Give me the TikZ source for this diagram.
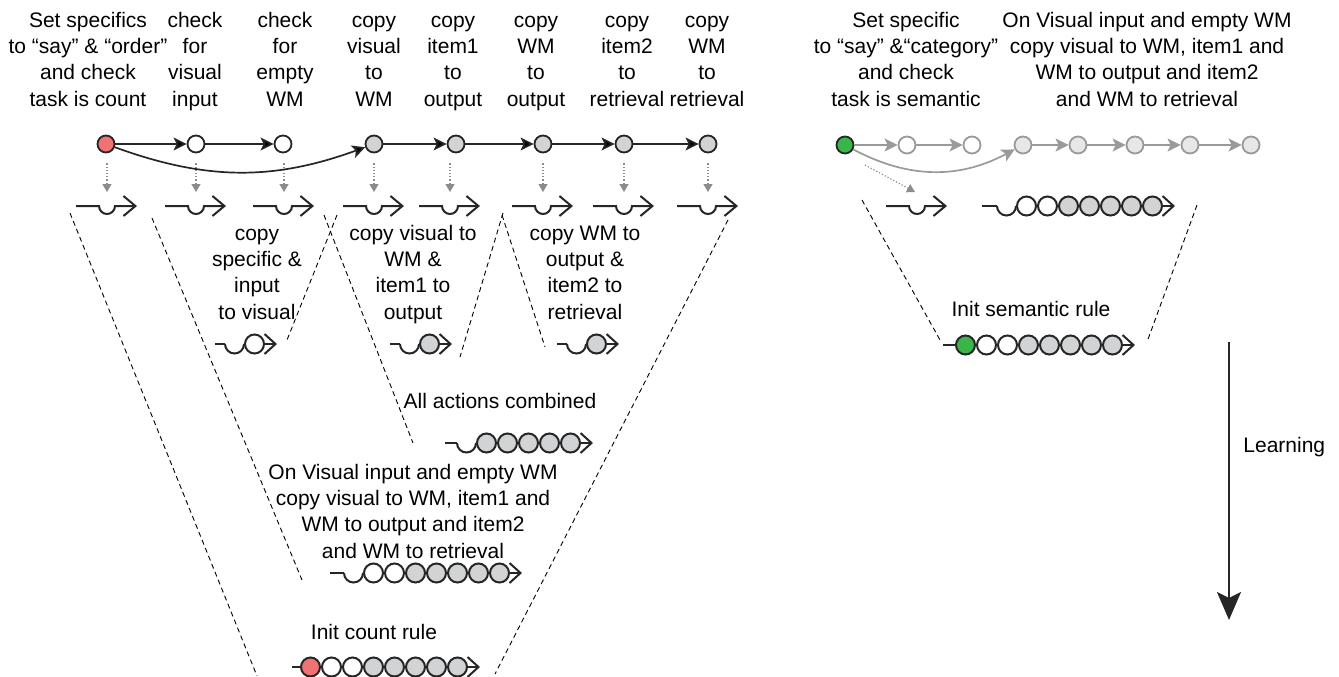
\documentclass[tikz,border=0pt]{standalone}
\usepackage{fontspec}
\setmainfont{Liberation Sans}
\usetikzlibrary{arrows.meta}

\definecolor{rood}{HTML}{F07272}
\definecolor{groen}{HTML}{3AB54A}
\definecolor{grijs}{HTML}{D1D3D4}
\definecolor{lichtgrijs}{HTML}{E6E7E8}
\definecolor{stipgrijs}{HTML}{8C8C8C}
\definecolor{randgrijs}{HTML}{9A9A9A}

\begin{document}
\begin{tikzpicture}[
    x=0.5pt, y=0.5pt,
    stap/.style={
      circle,
      draw=black!85,
      line width=0.9pt,
      minimum size=8.5pt,
      inner sep=0pt},
    grijsstap/.style={stap, draw=randgrijs},
    pijl/.style={-{Stealth[length=6.5pt,width=6.5pt,inset=1.5pt]}, line width=0.85pt, draw=black!85},
    grijspijl/.style={pijl, draw=randgrijs, fill=randgrijs},
    stippel/.style={-{Triangle[length=4pt,width=4.5pt]}, densely dotted, stipgrijs, line width=0.6pt},
    rand/.style={dash pattern=on 2.5pt off 1.8pt, line width=0.45pt},
    lijn/.style={line width=1pt, black!85},
    tekst/.style={align=center, inner sep=0pt, font=\fontsize{10.5}{13.15}\selectfont},
    /regel/.code 2 args={
      \coordinate (#1) at #2;
      \draw[lijn, -{Straight Barb[length=6pt,width=10pt]}]
        (#1) ++(-31,0) -- ++(23,0) arc[start angle=180, end angle=360, radius=8] -- ++(22,0);
      },
    /keten/.code n args={5}{
      \coordinate (#1) at #2;
      \draw[lijn] (#1) -- ++(#3,0) coordinate (#1-eind);
      \ifnum#4=1
        \draw[lijn] (#1-eind) arc[start angle=180, end angle=360, radius=9.5] coordinate (#1-eind);
      \fi
      \foreach \kleur in {#5}
        \filldraw[lijn, fill=\kleur] (#1-eind) ++(10.5,0) circle[radius=9.5] ++(10.5,0) coordinate (#1-eind);
      \draw[lijn, -{Straight Barb[length=5.5pt,width=10pt]}] (#1-eind) -- ++(12,0);
      }
    ]
  \useasboundingbox (0,0) rectangle (1339,-676);

  % count task: steps
  \node[stap, fill=rood]  (s1) at (106,-144) {};
  \node[stap, fill=white] (s2) at (196,-144) {};
  \node[stap, fill=white] (s3) at (283,-144) {};
  \node[stap, fill=grijs] (s4) at (374,-144) {};
  \node[stap, fill=grijs] (s5) at (456,-144) {};
  \node[stap, fill=grijs] (s6) at (543,-144) {};
  \node[stap, fill=grijs] (s7) at (624,-144) {};
  \node[stap, fill=grijs] (s8) at (708,-144) {};

  \path[pijl] (s1) edge (s2) (s2) edge (s3);
  \path[pijl] (s4) edge (s5) (s5) edge (s6) (s6) edge (s7) (s7) edge (s8);
  \path[pijl] (s1) edge[bend right=20] (s4);

  % labels, anchored at the baseline of the last line
  \node[tekst, anchor=base] (t1) at (88,-106)  {Set specifics\\to “say” \& “order”\\and check\\task is count};
  \node[tekst, anchor=base] (t2) at (195,-106) {check\\for\\visual\\input};
  \node[tekst, anchor=base] (t3) at (285,-106) {check\\for\\empty\\WM};
  \node[tekst, anchor=base] (t4) at (374,-106) {copy\\visual\\to\\WM};
  \node[tekst, anchor=base] (t5) at (453,-106) {copy\\item1\\to\\output};
  \node[tekst, anchor=base] (t6) at (536,-106) {copy\\WM\\to\\output};
  \node[tekst, anchor=base] (t7) at (627,-106) {copy\\item2\\to\\retrieval};
  \node[tekst, anchor=base] (t8) at (707,-106) {copy\\WM\\to\\retrieval};

  % single productions
  \pgfkeys{/regel={g1}{(107,-206)}}
  \pgfkeys{/regel={g2}{(196,-206)}}
  \pgfkeys{/regel={g3}{(284,-206)}}
  \pgfkeys{/regel={g4}{(374,-206)}}
  \pgfkeys{/regel={g5}{(450,-206)}}
  \pgfkeys{/regel={g6}{(543,-206)}}
  \pgfkeys{/regel={g7}{(624,-206)}}
  \pgfkeys{/regel={g8}{(708,-206)}}

  \foreach \i in {1,...,8}
    \draw[stippel] (g\i |- s\i.south) ++(0,-10) -- ([yshift=7pt]g\i);

  % combined productions
  \pgfkeys{/keten={k1}{(215,-344)}{10}{1}{white}}
  \pgfkeys{/keten={k2}{(390,-344)}{10}{1}{grijs}}
  \pgfkeys{/keten={k3}{(557,-344)}{10}{1}{grijs}}
  \pgfkeys{/keten={k4}{(445,-443)}{12}{1}{grijs,grijs,grijs,grijs,grijs}}
  \pgfkeys{/keten={k5}{(330,-573)}{14}{1}{white,white,grijs,grijs,grijs,grijs,grijs}}
  \pgfkeys{/keten={k6}{(292,-667)}{8}{0}{rood,white,white,grijs,grijs,grijs,grijs,grijs}}

  \node[tekst, anchor=base] (m1) at (257,-319) {copy\\specific \&\\input\\to visual};
  \node[tekst, anchor=base] (m2) at (413,-319) {copy visual to\\WM \&\\item1 to\\output};
  \node[tekst, anchor=base] (m3) at (585,-319) {copy WM to\\output \&\\item2 to\\retrieval};
  \node[tekst, anchor=base] (m4) at (500,-408) {All actions combined};
  \node[tekst, anchor=base] (m5) at (413,-558) {On Visual input and empty WM\\copy visual to WM, item1 and\\WM to output and item2\\and WM to retrieval};
  \node[tekst, anchor=base] (m6) at (374,-639) {Init count rule};

  % funnels
  \draw[rand] (70,-213) -- (257,-676);
  \draw[rand] (728,-220) -- (495,-674);
  \draw[rand] (152,-218) -- (302,-580);
  \draw[rand] (337,-215) -- (287,-340);
  \draw[rand] (324,-215) -- (413,-443);
  \draw[rand] (503,-213) -- (460,-357);
  \draw[rand] (502,-215) -- (545,-347);

  % semantic task
  \node[stap, fill=groen]           (r1) at (845,-145) {};
  \node[grijsstap, fill=white]      (r2) at (907,-145) {};
  \node[grijsstap, fill=white]      (r3) at (972,-145) {};
  \node[grijsstap, fill=lichtgrijs] (r4) at (1023,-145) {};
  \node[grijsstap, fill=lichtgrijs] (r5) at (1078,-145) {};
  \node[grijsstap, fill=lichtgrijs] (r6) at (1135,-145) {};
  \node[grijsstap, fill=lichtgrijs] (r7) at (1190,-145) {};
  \node[grijsstap, fill=lichtgrijs] (r8) at (1251,-145) {};

  \path[grijspijl] (r1) edge (r2) (r2) edge (r3);
  \path[grijspijl] (r4) edge (r5) (r5) edge (r6) (r6) edge (r7) (r7) edge (r8);
  \path[grijspijl] (r1) edge[bend right=28] (r4);

  \node[tekst, anchor=base] (rt1) at (906,-106)  {Set specific\\to “say” \&“category”\\and check\\task is semantic};
  \node[tekst, anchor=base] (rt2) at (1147,-106) {On Visual input and empty WM\\copy visual to WM, item1 and\\WM to output and item2\\and WM to retrieval};

  \pgfkeys{/regel={h1}{(917,-206)}}
  \pgfkeys{/keten={k7}{(982,-206)}{15}{1}{white,white,grijs,grijs,grijs,grijs,grijs}}
  \pgfkeys{/keten={k8}{(943,-345)}{12}{0}{groen,white,white,grijs,grijs,grijs,grijs,grijs}}
  \draw[stippel] (r1) ++(20,-20) -- ([xshift=-1pt,yshift=7pt]h1);

  \node[tekst, anchor=base] (m7) at (1031,-316) {Init semantic rule};

  \draw[rand] (862,-200) -- (940,-340);
  \draw[rand] (1197,-205) -- (1147,-342);

  % learning
  \coordinate (l1) at (1229,-342);
  \coordinate (l2) at (1229,-620);
  \draw[line width=1pt, black!85, -{Stealth[length=14pt,width=12pt,inset=3pt]}] (l1) -- (l2);
  \node[tekst, anchor=base west] (leren) at (1243,-452) {Learning};

\end{tikzpicture}
\end{document}
